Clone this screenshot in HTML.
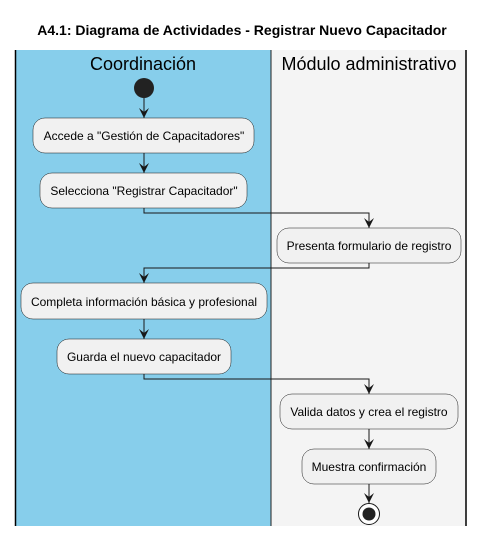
<!DOCTYPE html>
<html><head><meta charset="utf-8"><style>body{margin:0;background:#fff}svg{display:block}</style></head>
<body>
<svg width="484" height="537" xmlns="http://www.w3.org/2000/svg" font-family="Liberation Sans, sans-serif">
<defs><marker id="a" viewBox="0 0 10 10" refX="10" refY="5" markerWidth="10" markerHeight="10" orient="auto" markerUnits="userSpaceOnUse"><path d="M0,0 L10,5 L0,10 L4,5 Z" fill="#181818"/></marker></defs>
<text x="242" y="35" text-anchor="middle" font-size="14" font-weight="bold" fill="#000">A4.1: Diagrama de Actividades - Registrar Nuevo Capacitador</text>
<rect x="15" y="50" width="256" height="476" fill="#87CEEB"/>
<rect x="271" y="50" width="195" height="476" fill="#f4f4f4"/>
<line x1="15.5" y1="50" x2="15.5" y2="526" stroke="#000" stroke-width="1.5"/>
<line x1="271" y1="50" x2="271" y2="526" stroke="#222" stroke-width="1"/>
<line x1="466" y1="50" x2="466" y2="526" stroke="#000" stroke-width="1.5"/>
<text x="143" y="70" text-anchor="middle" font-size="18" fill="#000">Coordinación</text>
<text x="369" y="70" text-anchor="middle" font-size="18" fill="#000">Módulo administrativo</text>
<circle cx="144" cy="88" r="10" fill="#222"/>
<g stroke="#181818" stroke-width="1" fill="none">
<line x1="144" y1="98" x2="144" y2="118" marker-end="url(#a)"/>
<line x1="144" y1="153" x2="144" y2="173" marker-end="url(#a)"/>
<polyline points="144,208 144,213 369,213 369,228" marker-end="url(#a)"/>
<polyline points="369,263 369,268 144,268 144,283" marker-end="url(#a)"/>
<line x1="144" y1="319" x2="144" y2="339" marker-end="url(#a)"/>
<polyline points="144,374 144,379 369,379 369,394" marker-end="url(#a)"/>
<line x1="369" y1="429" x2="369" y2="449" marker-end="url(#a)"/>
<line x1="369" y1="484" x2="369" y2="503" marker-end="url(#a)"/>
</g>
<g fill="#f1f1f1" stroke="#181818" stroke-width="0.5">
<rect x="33" y="118" width="221" height="35" rx="12"/>
<rect x="40" y="173" width="207" height="35" rx="12"/>
<rect x="277" y="228" width="184" height="35" rx="12"/>
<rect x="21" y="283" width="246" height="36" rx="12"/>
<rect x="57" y="339" width="174" height="35" rx="12"/>
<rect x="280" y="394" width="178" height="35" rx="12"/>
<rect x="302" y="449" width="134" height="35" rx="12"/>
</g>
<g font-size="12" fill="#000" text-anchor="middle">
<text x="144" y="140">Accede a "Gestión de Capacitadores"</text>
<text x="144" y="195">Selecciona "Registrar Capacitador"</text>
<text x="369" y="250">Presenta formulario de registro</text>
<text x="144" y="306">Completa información básica y profesional</text>
<text x="144" y="361">Guarda el nuevo capacitador</text>
<text x="369" y="416">Valida datos y crea el registro</text>
<text x="369" y="471">Muestra confirmación</text>
</g>
<circle cx="369" cy="514" r="10.5" fill="#fff" stroke="#181818" stroke-width="1"/>
<circle cx="369" cy="514" r="6.5" fill="#222"/>
</svg>
</body></html>
